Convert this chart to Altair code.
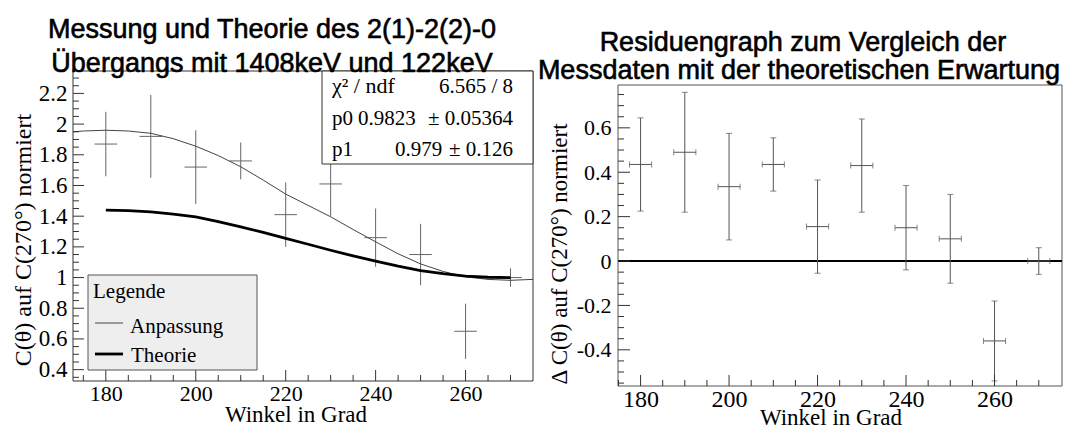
import altair as alt
import pandas as pd

# ---------------- data ----------------
angles = [180, 190, 200, 210, 220, 230, 240, 250, 260, 270]
measured = [1.87, 1.92, 1.72, 1.76, 1.41, 1.61, 1.26, 1.15, 0.65, 1.00]
errors = [0.21, 0.27, 0.24, 0.12, 0.21, 0.21, 0.19, 0.20, 0.18, 0.06]
angle_err = [2.5, 2.5, 2.5, 2.5, 2.5, 2.5, 2.5, 2.5, 2.5, 2.5]
residuals = [0.435, 0.49, 0.335, 0.435, 0.155, 0.43, 0.15, 0.10, -0.36, 0.0]

fit_angle = [172.7, 175, 180, 185, 190, 195, 200, 205, 210, 215, 220,
             225, 230, 235, 240, 245, 250, 255, 260, 265, 270, 275]
fit_value = [1.95, 1.955, 1.96, 1.955, 1.94, 1.905, 1.856, 1.795, 1.722, 1.635, 1.544,
             1.47, 1.396, 1.313, 1.233, 1.155, 1.089, 1.04, 1.005, 0.988, 0.982, 0.988]

theory_angle = [180, 185, 190, 195, 200, 205, 210, 215, 220, 225,
                230, 235, 240, 245, 250, 255, 260, 265, 270]
theory_value = [1.44, 1.436, 1.428, 1.414, 1.395, 1.365, 1.33, 1.295, 1.256, 1.217,
                1.178, 1.141, 1.107, 1.074, 1.045, 1.025, 1.01, 1.002, 1.0]

x_labels = [180, 200, 220, 240, 260]
left_y_labels = [0.4, 0.6, 0.8, 1, 1.2, 1.4, 1.6, 1.8, 2, 2.2]
right_y_labels = [-0.4, -0.2, 0, 0.2, 0.4, 0.6]

SERIF = "Liberation Serif"
SANS = "Liberation Sans"

# ---------------- tables ----------------
left_df = pd.DataFrame({
    "angle": angles, "val": measured,
    "lo": [m - e for m, e in zip(measured, errors)],
    "hi": [m + e for m, e in zip(measured, errors)],
    "xlo": [a - d for a, d in zip(angles, angle_err)],
    "xhi": [a + d for a, d in zip(angles, angle_err)],
})
right_df = pd.DataFrame({
    "angle": angles, "val": residuals,
    "lo": [r - e for r, e in zip(residuals, errors)],
    "hi": [r + e for r, e in zip(residuals, errors)],
    "xlo": [a - d for a, d in zip(angles, angle_err)],
    "xhi": [a + d for a, d in zip(angles, angle_err)],
})
fit_df = pd.DataFrame({"angle": fit_angle, "val": fit_value})
theo_df = pd.DataFrame({"angle": theory_angle, "val": theory_value})
zero_df = pd.DataFrame({"val": [0.0]})
one = pd.DataFrame({"k": [0]})

# ---------------- geometry (pixels) ----------------
L_X0, L_X1, L_Y0, L_Y1 = 73, 533, 71, 381
R_X0, R_X1, R_Y0, R_Y1 = 618, 1062, 85, 386

LX = alt.Scale(domain=[172.7, 275.0], range=[L_X0, L_X1], nice=False, zero=False)
LY = alt.Scale(domain=[0.326, 2.346], range=[L_Y1, L_Y0], nice=False, zero=False)
RX = alt.Scale(domain=[174.9, 275.25], range=[R_X0, R_X1], nice=False, zero=False)
RY = alt.Scale(domain=[-0.563, 0.793], range=[R_Y1, R_Y0], nice=False, zero=False)


def axis(values, orient, offset, size, pad):
    return alt.Axis(values=values, orient=orient, offset=offset, ticks=False,
                    domain=False, grid=False, labelFont=SERIF, labelFontSize=size,
                    labelColor="black", labelPadding=pad, labelOverlap=False,
                    labelExpr="toString(datum.value)", title=None)


LXA = axis(x_labels, "bottom", -(426 - L_Y1), 22, 2)
LYA = axis(left_y_labels, "left", -L_X0, 23, 6)
RXA = axis(x_labels, "bottom", -(426 - R_Y1), 24, 1)
RYA = axis(right_y_labels, "left", -R_X0, 22, 7)


def X(field, s, a):
    return alt.X(field, type="quantitative", scale=s, axis=a)


def Y(field, s, a):
    return alt.Y(field, type="quantitative", scale=s, axis=a)


def text(t, x, y, size, font=SERIF, align="left", angle=0, heavy=False):
    kw = dict(font=font, fontSize=size, align=align, baseline="alphabetic",
              angle=angle, color="black")
    if heavy:
        kw.update(stroke="black", strokeWidth=0.6)
    return alt.Chart(pd.DataFrame({"t": [t]})).mark_text(**kw).encode(
        x=alt.value(x), y=alt.value(y), text="t:N")


def rect(x0, x1, y0, y1, fill=None, stroke="#333"):
    if fill is None:
        m = alt.Chart(one).mark_rect(filled=False, stroke=stroke, strokeWidth=1)
    else:
        m = alt.Chart(one).mark_rect(fill=fill, stroke=stroke, strokeWidth=1)
    return m.encode(x=alt.value(x0), x2=alt.value(x1), y=alt.value(y0), y2=alt.value(y1))


def hseg(x0, x1, y, color, w):
    return alt.Chart(one).mark_rule(color=color, strokeWidth=w).encode(
        x=alt.value(x0), x2=alt.value(x1), y=alt.value(y))


def xticks(vals, s, a, ybot, length):
    return alt.Chart(pd.DataFrame({"v": vals})).mark_rule(color="#333", strokeWidth=1).encode(
        x=X("v", s, a), y=alt.value(ybot - length), y2=alt.value(ybot))


def yticks(vals, s, a, xleft, length):
    return alt.Chart(pd.DataFrame({"v": vals})).mark_rule(color="#333", strokeWidth=1).encode(
        y=Y("v", s, a), x=alt.value(xleft), x2=alt.value(xleft + length))


x_major = [180, 200, 220, 240, 260]
x_minor = [175, 185, 190, 195, 205, 210, 215, 225, 230, 235, 245, 250, 255, 265, 270]
ly_major = left_y_labels
ly_minor = [round(0.35 + 0.05 * i, 2) for i in range(40)
            if round(0.35 + 0.05 * i, 2) not in ly_major and round(0.35 + 0.05 * i, 2) <= 2.34]
ry_major = right_y_labels
ry_minor = [round(-0.55 + 0.05 * i, 2) for i in range(27)
            if round(-0.55 + 0.05 * i, 2) not in ry_major and round(-0.55 + 0.05 * i, 2) <= 0.78]

# ---------------- left panel ----------------
err_col_l = "#666666"
left = alt.layer(
    rect(L_X0, L_X1, L_Y0, L_Y1),
    alt.Chart(left_df).mark_rule(color=err_col_l, strokeWidth=1).encode(
        x=X("angle", LX, LXA), y=Y("lo", LY, LYA), y2="hi"),
    alt.Chart(left_df).mark_rule(color=err_col_l, strokeWidth=1).encode(
        x=X("xlo", LX, LXA), x2="xhi", y=Y("val", LY, LYA)),
    alt.Chart(fit_df).mark_line(color="#444444", strokeWidth=1).encode(
        x=X("angle", LX, LXA), y=Y("val", LY, LYA)),
    alt.Chart(theo_df).mark_line(color="black", strokeWidth=2.8).encode(
        x=X("angle", LX, LXA), y=Y("val", LY, LYA)),
    xticks(x_major, LX, LXA, L_Y1, 11),
    xticks(x_minor, LX, LXA, L_Y1, 6),
    yticks(ly_major, LY, LYA, L_X0, 11),
    yticks(ly_minor, LY, LYA, L_X0, 6),
    # stats box
    rect(322, L_X1, L_Y0, 164, fill="white"),
    text("χ² / ndf", 332, 93, 22),
    text("6.565 / 8", 513, 93, 21, align="right"),
    text("p0", 332, 125, 21),
    text("0.9823", 358, 125, 21),
    text("± 0.05364", 513, 125, 21, align="right"),
    text("p1", 332, 156, 21),
    text("0.979", 395, 156, 21),
    text("± 0.126", 513, 156, 21, align="right"),
    # legend
    rect(88, 257, 275, 370, fill="#eeeeee", stroke="#555555"),
    text("Legende", 93, 298, 21),
    hseg(95, 123, 323, "#444444", 1),
    text("Anpassung", 130, 333, 21),
    hseg(95, 123, 354, "black", 2.8),
    text("Theorie", 131, 362, 21),
    # titles
    text("Messung und Theorie des 2(1)-2(2)-0", 272, 38, 27, font=SANS, align="center", heavy=True),
    text("Übergangs mit 1408keV und 122keV", 272, 72, 27, font=SANS, align="center", heavy=True),
    text("Winkel in Grad", 296, 422, 23, align="center"),
    text("C(θ) auf C(270°) normiert", 31, 240, 24, align="center", angle=270),
)

# ---------------- right panel ----------------
err_col_r = "#555555"
right = alt.layer(
    rect(R_X0, R_X1, R_Y0, R_Y1, stroke="#555555"),
    alt.Chart(zero_df).mark_rule(color="black", strokeWidth=2).encode(
        y=Y("val", RY, RYA), x=alt.value(R_X0), x2=alt.value(R_X1)),
    alt.Chart(right_df).mark_rule(color=err_col_r, strokeWidth=1).encode(
        x=X("angle", RX, RXA), y=Y("lo", RY, RYA), y2="hi"),
    alt.Chart(right_df).mark_rule(color=err_col_r, strokeWidth=1).encode(
        x=X("xlo", RX, RXA), x2="xhi", y=Y("val", RY, RYA)),
    alt.Chart(right_df).mark_tick(orient="horizontal", size=6, thickness=1, color=err_col_r).encode(
        x=X("angle", RX, RXA), y=Y("lo", RY, RYA)),
    alt.Chart(right_df).mark_tick(orient="horizontal", size=6, thickness=1, color=err_col_r).encode(
        x=X("angle", RX, RXA), y=Y("hi", RY, RYA)),
    alt.Chart(right_df).mark_tick(orient="vertical", size=6, thickness=1, color=err_col_r).encode(
        x=X("xlo", RX, RXA), y=Y("val", RY, RYA)),
    alt.Chart(right_df).mark_tick(orient="vertical", size=6, thickness=1, color=err_col_r).encode(
        x=X("xhi", RX, RXA), y=Y("val", RY, RYA)),
    xticks(x_major, RX, RXA, R_Y1, 11),
    xticks(x_minor, RX, RXA, R_Y1, 6),
    yticks(ry_major, RY, RYA, R_X0, 12),
    yticks(ry_minor, RY, RYA, R_X0, 6),
    text("Residuengraph zum Vergleich der", 803, 51, 27, font=SANS, align="center", heavy=True),
    text("Messdaten mit der theoretischen Erwartung", 799, 79, 27, font=SANS, align="center", heavy=True),
    text("Winkel in Grad", 831, 425, 23, align="center"),
    text("Δ C(θ) auf C(270°) normiert", 567, 254, 23, align="center", angle=270),
)

chart = alt.layer(left, right).resolve_scale(
    x="independent", y="independent"
).properties(
    width=1068, height=426, padding=0,
    autosize=alt.AutoSizeParams(type="none"),
    background="white",
).configure_view(stroke=None)

chart.save("out.html", embed_options={"renderer": "svg", "actions": False})
